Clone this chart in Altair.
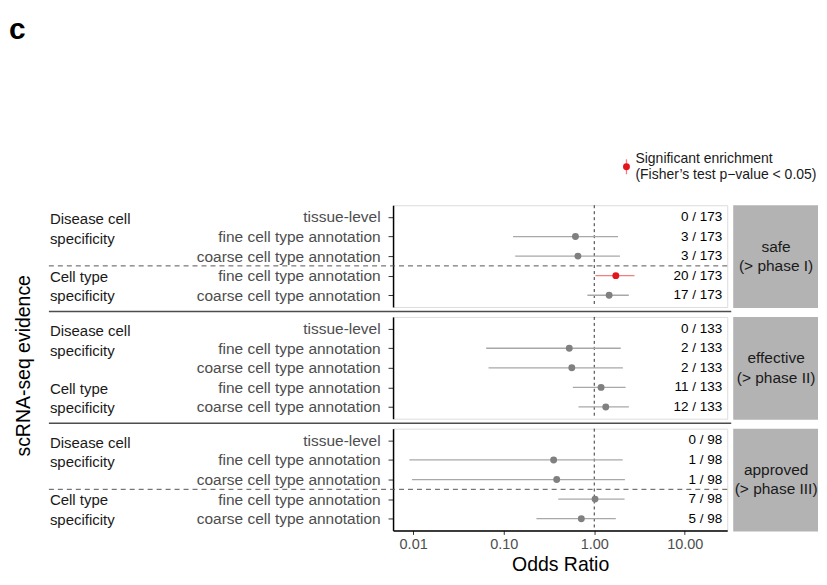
import altair as alt
import pandas as pd

# ---------------- data ----------------
row_labels = ["tissue-level", "fine cell type annotation", "coarse cell type annotation",
              "fine cell type annotation", "coarse cell type annotation"]
row_pos = [1, 2, 3, 4, 5]
group_labels = ["Disease cell\nspecificity", "Cell type\nspecificity"]
group_pos = [1.13, 4.07]
phase_labels = ["safe\n(> phase I)", "effective\n(> phase II)", "approved\n(> phase III)"]
totals = [173, 133, 98]
hits = [[0, 3, 3, 20, 17], [0, 2, 2, 11, 12], [0, 1, 1, 7, 5]]
odds = [[None, 0.62, 0.66, 1.73, 1.46],
        [None, 0.53, 0.565, 1.19, 1.34],
        [None, 0.356, 0.385, 1.02, 0.72]]
lower = [[None, 0.127, 0.134, 1.03, 0.84],
         [None, 0.064, 0.068, 0.58, 0.67],
         [None, 0.0091, 0.0097, 0.40, 0.23]]
upper = [[None, 1.83, 1.92, 2.78, 2.41],
         [None, 1.96, 2.07, 2.22, 2.41],
         [None, 2.06, 2.18, 2.16, 1.73]]
significant = [[False, False, False, True, False],
               [False] * 5,
               [False] * 5]
dashed_sep = [True, False, True]
x_ticks = [0.01, 0.1, 1, 10]
x_domain = [0.006, 29.4]
ref_line = [1]
legend_lines = ["Significant enrichment\n(Fisher\u2019s test p\u2212value < 0.05)"]
panel_letter = ["c"]
y_title = ["scRNA-seq evidence"]

W, H = 335, 102
FONT = "Liberation Sans"
GREY_PT = "#808080"
GREY_LN = "#a8a8a8"
RED_PT = "#e3141c"
RED_LN = "#f08080"

xscale = alt.Scale(type="log", domain=x_domain, nice=False, zero=False)
yscale = alt.Scale(domain=[0.4, 5.6], reverse=True, nice=False, zero=False)

label_expr = "[" + ",".join(["''"] + [repr(s) for s in row_labels]) + "][datum.value]"
yaxis = alt.Axis(values=row_pos, labelExpr=label_expr, title=None, grid=False,
                 domainColor="black", domainWidth=1.5, tickColor="#333333",
                 tickSize=5, tickWidth=1, labelPadding=8, labelFontSize=15.5,
                 labelColor="#4d4d4d", labelFont=FONT, labelOverlap=False,
                 labelLimit=400)
xaxis_full = alt.Axis(values=x_ticks, format=".2f", title="Odds Ratio", titleFontSize=19.5,
                      titleFontWeight="normal", titleColor="black", titlePadding=5,
                      titleFont=FONT, labelFont=FONT,
                      labelFontSize=14.5, labelColor="#4d4d4d", tickSize=4,
                      tickColor="#333333", domainColor="black", domainWidth=1.5,
                      grid=False, labelPadding=3, labelFlush=False)


def X(field, i):
    return alt.X(field, type="quantitative", scale=xscale,
                 axis=xaxis_full if i == 2 else None)


def Y(field):
    return alt.Y(field, type="quantitative", scale=yscale, axis=yaxis)


def panel(i):
    df = pd.DataFrame({
        "row": row_pos,
        "label": row_labels,
        "or": odds[i],
        "lo": lower[i],
        "hi": upper[i],
        "sig": significant[i],
        "count": [f"{h} / {totals[i]}" for h in hits[i]],
    })
    base = alt.Chart(df)
    layers = []

    # vertical reference line at OR = 1
    layers.append(alt.Chart(pd.DataFrame({"v": ref_line})).mark_rule(
        color="black", strokeWidth=0.8, strokeDash=[3, 3]).encode(
        x=X("v", i), y=alt.value(0), y2=alt.value(H)))

    # dashed separator between group blocks
    if dashed_sep[i]:
        layers.append(alt.Chart(pd.DataFrame({"h": [3.5]})).mark_rule(
            color="#555555", strokeWidth=1, strokeDash=[5, 4]).encode(
            y=Y("h"), x=alt.value(-345), x2=alt.value(335)))

    # CI lines
    layers.append(base.mark_rule(strokeWidth=1.3).encode(
        x=X("lo", i), x2="hi", y=Y("row"),
        color=alt.condition("datum.sig", alt.value(RED_LN), alt.value(GREY_LN))))

    # points
    layers.append(base.mark_circle(size=48, opacity=1).encode(
        x=X("or", i), y=Y("row"),
        color=alt.condition("datum.sig", alt.value(RED_PT), alt.value(GREY_PT))))

    # counts
    layers.append(base.mark_text(align="right", baseline="middle", fontSize=13.5,
                                 color="black", font=FONT).encode(
        x=alt.value(330), y=Y("row"), text="count"))

    # group labels (first line placed at y)
    layers.append(alt.Chart(pd.DataFrame({"g": group_labels, "gy": group_pos})).mark_text(
        align="left", baseline="middle", fontSize=15, color="#1a1a1a", font=FONT,
        lineBreak="\n", lineHeight=19.5).encode(
        x=alt.value(-344), y=Y("gy"), text="g"))

    # strip
    strip_df = pd.DataFrame({"strip": [phase_labels[i]]})
    layers.append(alt.Chart(strip_df).mark_rect(color="#b3b3b3").encode(
        x=alt.value(341), x2=alt.value(426), y=alt.value(0), y2=alt.value(H + 1)))
    layers.append(alt.Chart(strip_df).mark_text(
        align="center", baseline="middle", fontSize=15.5, color="#1a1a1a", font=FONT,
        lineBreak="\n", lineHeight=19.5).encode(
        x=alt.value(384), y=alt.value(H / 2 - 9.5), text="strip"))

    # solid separators between panels
    if i < 2:
        layers.append(alt.Chart(pd.DataFrame({"s": [0]})).mark_rule(
            color="#4d4d4d", strokeWidth=1.5).encode(
            y=alt.value(H + 4.5), x=alt.value(-345), x2=alt.value(339)))

    if i == 0:
        layers.append(alt.Chart(pd.DataFrame({"t": panel_letter})).mark_text(
            align="left", baseline="alphabetic", fontSize=30, fontWeight="bold",
            color="black", font=FONT).encode(
            x=alt.value(-385), y=alt.value(-167), text="t"))
        leg = pd.DataFrame({"t": legend_lines})
        layers.append(alt.Chart(leg).mark_rule(color=RED_LN, strokeWidth=1.3).encode(
            x=alt.value(234), y=alt.value(-46), y2=alt.value(-31)))
        layers.append(alt.Chart(leg).mark_circle(size=48, opacity=1, color=RED_PT).encode(
            x=alt.value(234), y=alt.value(-38.5)))
        layers.append(alt.Chart(leg).mark_text(
            align="left", baseline="middle", fontSize=14, color="#1a1a1a", font=FONT,
            lineBreak="\n", lineHeight=16.7).encode(
            x=alt.value(243), y=alt.value(-46.7), text="t"))
    if i == 1:
        layers.append(alt.Chart(pd.DataFrame({"t": y_title})).mark_text(
            align="center", baseline="middle", fontSize=19.5, angle=270,
            color="black", font=FONT).encode(
            x=alt.value(-370), y=alt.value(49), text="t"))

    return alt.layer(*layers).properties(width=W, height=H)


chart = alt.vconcat(panel(0), panel(1), panel(2), spacing=10, bounds="flush").properties(
    padding={"left": 0, "top": 5, "right": 0, "bottom": 5}
).configure_view(stroke=None).configure(font=FONT)

chart.save("out.html", embed_options={"renderer": "svg", "actions": False})
